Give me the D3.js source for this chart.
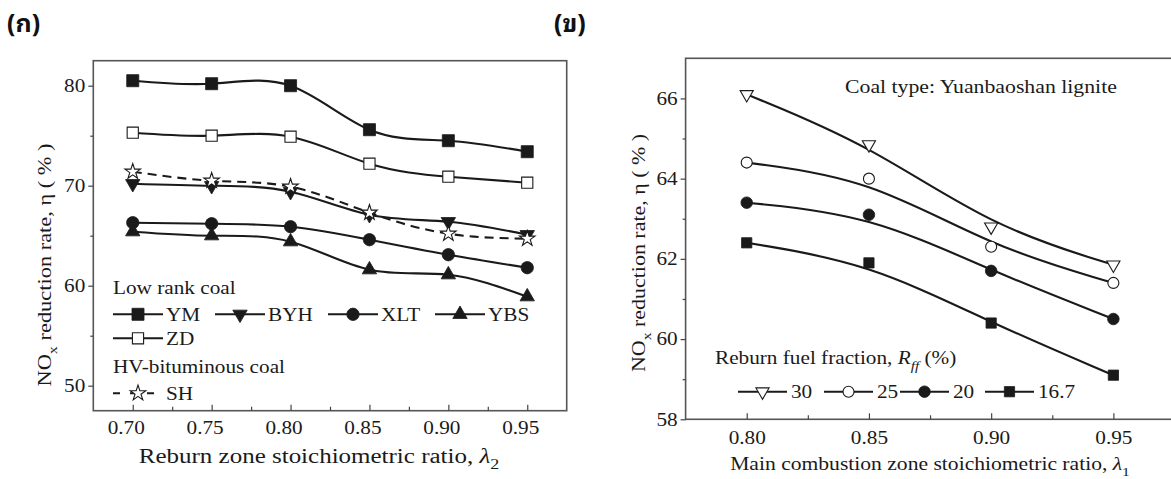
<!DOCTYPE html>
<html><head><meta charset="utf-8">
<script src="https://cdn.jsdelivr.net/npm/d3@7"></script>
<style>body{margin:0;background:#fff}svg{display:block}</style>
</head><body>
<svg id="c" width="1171" height="479"></svg>
<script>
// ---------- data ----------
const lambda2 = [0.70, 0.75, 0.80, 0.85, 0.90, 0.95];
const YM  = [80.5, 80.2, 80.0, 75.6, 74.5, 73.4];
const ZD  = [75.3, 75.0, 74.9, 72.2, 70.9, 70.3];
const BYH = [70.2, 70.0, 69.4, 67.1, 66.4, 65.1];
const XLT = [66.3, 66.2, 65.9, 64.6, 63.1, 61.8];
const YBS = [65.4, 65.0, 64.4, 61.6, 61.1, 58.9];
const SH  = [71.4, 70.5, 69.9, 67.3, 65.2, 64.7];
const leftXTicks = [0.70, 0.75, 0.80, 0.85, 0.90, 0.95];
const leftXMinor = [0.725, 0.775, 0.825, 0.875, 0.925];
const leftYTicks = [50, 60, 70, 80];
const leftYMinor = [55, 65, 75];

const lambda1 = [0.80, 0.85, 0.90, 0.95];
const R30  = [66.1, 64.85, 62.8, 61.85];
const R25  = [64.4, 64.0, 62.3, 61.4];
const R20  = [63.4, 63.1, 61.7, 60.5];
const R167 = [62.4, 61.9, 60.4, 59.1];
const rightXTicks = [0.80, 0.85, 0.90, 0.95];
const rightXMinor = [0.825, 0.875, 0.925];
const rightYTicks = [58, 60, 62, 64, 66];
const rightYMinor = [59, 61, 63, 65];

// ---------- setup ----------
const svg = d3.select('#c');
const SERIF = '"Liberation Serif","Times New Roman",serif';
const THAI = '"Noto Sans Thai Looped","Noto Serif Thai","Leelawadee UI","Tahoma","Noto Sans Thai","Noto Sans","DejaVu Sans",sans-serif';
const SX = 1.18;   // horizontal stretch of the reference typeface
const INK = '#1a1a1a';

function richText(parent, x, y, parts, o = {}) {
  const size = o.size || 18;
  const g = parent.append('g')
    .attr('transform', `translate(${x},${y})` + (o.rotate ? ` rotate(${o.rotate})` : '') + ` scale(${o.sx || SX},1)`);
  const t = g.append('text').attr('font-family', o.family || SERIF).attr('font-size', size)
    .attr('fill', INK).attr('text-anchor', o.anchor || 'start');
  if (o.weight) t.attr('font-weight', o.weight);
  let shift = 0;
  parts.forEach(p => {
    if (typeof p === 'string') p = { t: p };
    const ts = t.append('tspan').text(p.t);
    let target = 0;
    if (p.sub) { ts.attr('font-size', size * 0.72); target = size * 0.32; }
    if (p.italic) ts.attr('font-style', 'italic');
    if (target !== shift) { ts.attr('dy', target - shift); shift = target; }
  });
  return t;
}

function marker(g, type, x, y, s) {
  const m = {
    square: d3.symbolSquare, circle: d3.symbolCircle, tri: d3.symbolTriangle,
    dtri: d3.symbolTriangle, star: d3.symbolStar
  }[type.shape];
  g.append('path').attr('d', d3.symbol(m, s)())
    .attr('transform', `translate(${x},${y})` + (type.shape === 'dtri' ? ' rotate(180)' : ''))
    .attr('fill', type.open ? '#fff' : INK)
    .attr('stroke', INK).attr('stroke-width', type.open ? 1.1 : 0.8);
}

function frame(g, x0, x1, y0, y1) {
  g.append('rect').attr('x', x0).attr('y', y1).attr('width', x1 - x0).attr('height', y0 - y1)
    .attr('fill', 'none').attr('stroke', '#555').attr('stroke-width', 1.6);
}

function axes(g, x, y, o) {
  const [x0] = x.range(), [y0] = y.range();
  const bx = g.append('g').attr('transform', `translate(0,${y0})`)
    .call(d3.axisBottom(x).tickValues(o.xt).tickFormat(d3.format('.2f')).tickSizeInner(-6).tickSizeOuter(0).tickPadding(o.xpad));
  bx.select('.domain').remove();
  bx.selectAll('.tick line').attr('stroke', '#444').attr('stroke-width', 1.2);
  bx.selectAll('text').attr('font-family', SERIF).attr('font-size', 18).attr('fill', INK)
    .attr('transform', `translate(${o.xdx},0) scale(${SX},1)`);
  const bm = g.append('g').attr('transform', `translate(0,${y0})`)
    .call(d3.axisBottom(x).tickValues(o.xm).tickFormat('').tickSizeInner(-4).tickSizeOuter(0));
  bm.select('.domain').remove();
  bm.selectAll('.tick line').attr('stroke', '#444').attr('stroke-width', 1.2);
  const ly = g.append('g').attr('transform', `translate(${x0},0)`)
    .call(d3.axisLeft(y).tickValues(o.yt).tickFormat(d3.format('d')).tickSizeInner(5).tickSizeOuter(0).tickPadding(3));
  ly.select('.domain').remove();
  ly.selectAll('.tick line').attr('stroke', '#444').attr('stroke-width', 1.2);
  ly.selectAll('text').attr('font-family', SERIF).attr('font-size', 18).attr('fill', INK)
    .attr('x', -8 / SX).attr('transform', `scale(${SX},1)`);
  const lm = g.append('g').attr('transform', `translate(${x0},0)`)
    .call(d3.axisLeft(y).tickValues(o.ym).tickFormat('').tickSizeInner(3).tickSizeOuter(0));
  lm.select('.domain').remove();
  lm.selectAll('.tick line').attr('stroke', '#444').attr('stroke-width', 1.2);
}

// ---------- panel labels ----------
svg.append('text').attr('x', 7).attr('y', 32).text('(ก)')
  .attr('font-family', THAI).attr('font-size', 25).attr('font-weight', 'bold').attr('fill', '#111');
svg.append('text').attr('x', 554).attr('y', 32).text('(ข)')
  .attr('font-family', THAI).attr('font-size', 25).attr('font-weight', 'bold').attr('fill', '#111');

// ---------- left panel ----------
const L = svg.append('g');
const xL = d3.scaleLinear().domain([0.675, 0.975]).range([93.3, 566.7]);
const yL = d3.scaleLinear().domain([47.5, 82.5]).range([410.7, 60.7]);
frame(L, 93.3, 566.7, 410.7, 60.7);
axes(L, xL, yL, { xt: leftXTicks, xm: leftXMinor, yt: leftYTicks, ym: leftYMinor, xpad: 11, xdx: -7 });

const leftSeries = [
  { name: 'YBS', v: YBS, shape: 'tri',    open: false, size: 90 },
  { name: 'XLT', v: XLT, shape: 'circle', open: false, size: 120 },
  { name: 'BYH', v: BYH, shape: 'dtri',   open: false, size: 90 },
  { name: 'SH',  v: SH,  shape: 'star',   open: true,  size: 75, dash: '9,6' },
  { name: 'ZD',  v: ZD,  shape: 'square', open: true,  size: 125 },
  { name: 'YM',  v: YM,  shape: 'square', open: false, size: 145 }
];
const lineL = d3.line().x(d => xL(d[0])).y(d => yL(d[1])).curve(d3.curveNatural);
leftSeries.forEach(s => {
  const pts = lambda2.map((x, i) => [x, s.v[i]]);
  L.append('path').attr('d', lineL(pts)).attr('fill', 'none').attr('stroke', INK)
    .attr('stroke-width', 2.1).attr('stroke-dasharray', s.dash || null);
});
leftSeries.forEach(s => {
  lambda2.forEach((x, i) => marker(L, s, xL(x), yL(s.v[i]), s.size));
});

// legend
richText(L, 113, 294, ['Low rank coal'], { size: 18 });
const legL = [
  { s: 'YM', x: 113, y: 314.3 }, { s: 'BYH', x: 215, y: 314.3 },
  { s: 'XLT', x: 328, y: 314.3 }, { s: 'YBS', x: 435, y: 314.3 },
  { s: 'ZD', x: 113, y: 338.3 }, { s: 'SH', x: 113, y: 393.3 }
];
legL.forEach(it => {
  const s = leftSeries.find(d => d.name === it.s);
  L.append('line').attr('x1', it.x).attr('x2', it.x + 50).attr('y1', it.y).attr('y2', it.y)
    .attr('stroke', INK).attr('stroke-width', 2.1).attr('stroke-dasharray', s.dash ? '7,10' : null);
  marker(L, s, it.x + 25, it.y, s.size);
  richText(L, it.x + 53, it.y + 6.5, [s.name], { size: 18 });
});
richText(L, 113, 373, ['HV-bituminous coal'], { size: 18 });

// axis titles
richText(L, 319, 463, ['Reburn zone stoichiometric ratio, ', { t: 'λ', italic: true }, { t: '2', sub: true }],
  { size: 20, sx: 1.25, anchor: 'middle' });
richText(L, 51, 265, ['NO', { t: 'x', sub: true }, ' reduction rate, η ( % )'],
  { size: 18, sx: 1.245, anchor: 'middle', rotate: -90 });

// ---------- right panel ----------
const R = svg.append('g');
const xR = d3.scaleLinear().domain([0.775, 0.975]).range([685.6, 1174.5]);
const yR = d3.scaleLinear().domain([58, 67]).range([419.3, 58.3]);
frame(R, 685.6, 1174.5, 419.3, 58.3);
axes(R, xR, yR, { xt: rightXTicks, xm: rightXMinor, yt: rightYTicks, ym: rightYMinor, xpad: 12, xdx: 0 });

const rightSeries = [
  { name: '30',   v: R30,  shape: 'dtri',   open: true,  size: 75 },
  { name: '25',   v: R25,  shape: 'circle', open: true,  size: 95 },
  { name: '20',   v: R20,  shape: 'circle', open: false, size: 105 },
  { name: '16.7', v: R167, shape: 'square', open: false, size: 105 }
];
const lineR = d3.line().x(d => xR(d[0])).y(d => yR(d[1])).curve(d3.curveBasis);
rightSeries.forEach(s => {
  const pts = lambda1.map((x, i) => [x, s.v[i]]);
  R.append('path').attr('d', lineR(pts)).attr('fill', 'none').attr('stroke', INK).attr('stroke-width', 2.1);
});
rightSeries.forEach(s => {
  lambda1.forEach((x, i) => marker(R, s, xR(x), yR(s.v[i]), s.size));
});

richText(R, 845, 93, ['Coal type: Yuanbaoshan lignite'], { size: 18, sx: 1.21 });
richText(R, 715, 364, ['Reburn fuel fraction, ', { t: 'R', italic: true }, { t: 'ff', italic: true, sub: true }, ' (%)'], { size: 18 });
const legR = [{ s: '30', x: 738 }, { s: '25', x: 824 }, { s: '20', x: 900 }, { s: '16.7', x: 985 }];
legR.forEach(it => {
  const s = rightSeries.find(d => d.name === it.s);
  const yy = 391.7;
  R.append('line').attr('x1', it.x).attr('x2', it.x + 49).attr('y1', yy).attr('y2', yy)
    .attr('stroke', INK).attr('stroke-width', 2.1);
  marker(R, s, it.x + 24.5, yy, s.size);
  richText(R, it.x + 53, yy + 6.5, [s.name], { size: 18 });
});

richText(R, 930, 470, ['Main combustion zone stoichiometric ratio, ', { t: 'λ', italic: true }, { t: '1', sub: true }],
  { size: 18, sx: 1.2, anchor: 'middle' });
richText(R, 645, 253, ['NO', { t: 'x', sub: true }, ' reduction rate, η ( % )'],
  { size: 18, sx: 1.22, anchor: 'middle', rotate: -90 });
</script>
</body></html>
